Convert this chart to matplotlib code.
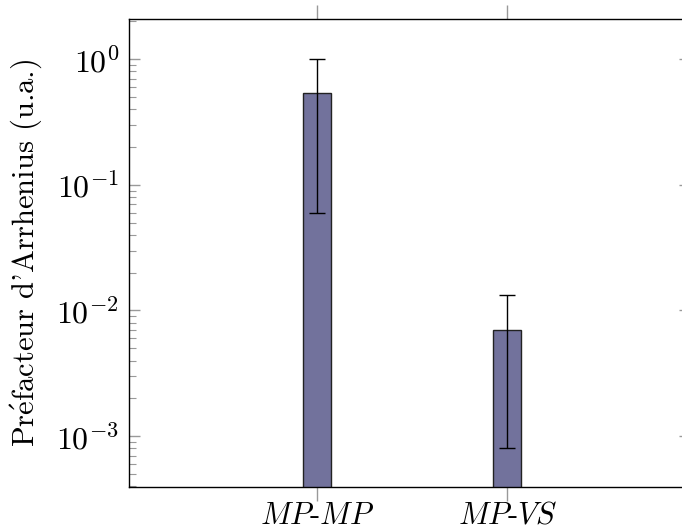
import matplotlib
matplotlib.use("Agg")
import matplotlib.pyplot as plt
import numpy as np

plt.rcParams['font.family'] = ['cmr10', 'DejaVu Serif']
plt.rcParams['mathtext.fontset'] = 'cm'
plt.rcParams['axes.formatter.use_mathtext'] = True

# données
categories = [r"$MP$-$MP$", r"$MP$-$VS$"]
valeurs = [0.537, 0.00698]
err_bas = [0.0598, 0.0008]
err_haut = [1.0, 0.0132]

x = np.arange(len(categories))
yerr = [np.array(valeurs) - np.array(err_bas), np.array(err_haut) - np.array(valeurs)]

fig = plt.figure(figsize=(6.82, 5.30), dpi=100)
ax = fig.add_axes([0.189, 0.081, 0.822, 0.883])

ax.bar(x, valeurs, width=0.148, color='#72729c', edgecolor='#222222', linewidth=1.0, zorder=2)
ax.errorbar(x, valeurs, yerr=yerr, fmt='none', ecolor='black', elinewidth=1.0,
            capsize=5.5, capthick=1.0, zorder=3)

ax.set_yscale('log')
ax.set_ylim(3.94e-4, 2.08)
ax.set_xlim(-0.99, 1.96)

ax.set_xticks(x)
ax.set_xticklabels(categories, fontsize=22)
ax.tick_params(axis='x', which='both', direction='out', length=10, width=1.0,
               color='#999999', top=True, bottom=True, pad=1)
ax.tick_params(axis='y', which='major', direction='in', length=8, width=1.0,
               color='#999999', left=True, right=True, labelsize=23, pad=7)
ax.tick_params(axis='y', which='minor', direction='in', length=5, width=0.8,
               color='#999999', left=True, right=True)

ax.set_ylabel(r"Pr$\acute{\mathrm{e}}$facteur d'Arrhenius (u.a.)", fontsize=22, labelpad=9)

for s in ax.spines.values():
    s.set_linewidth(1.0)
    s.set_color('black')

fig.savefig('out.png', dpi=100)
